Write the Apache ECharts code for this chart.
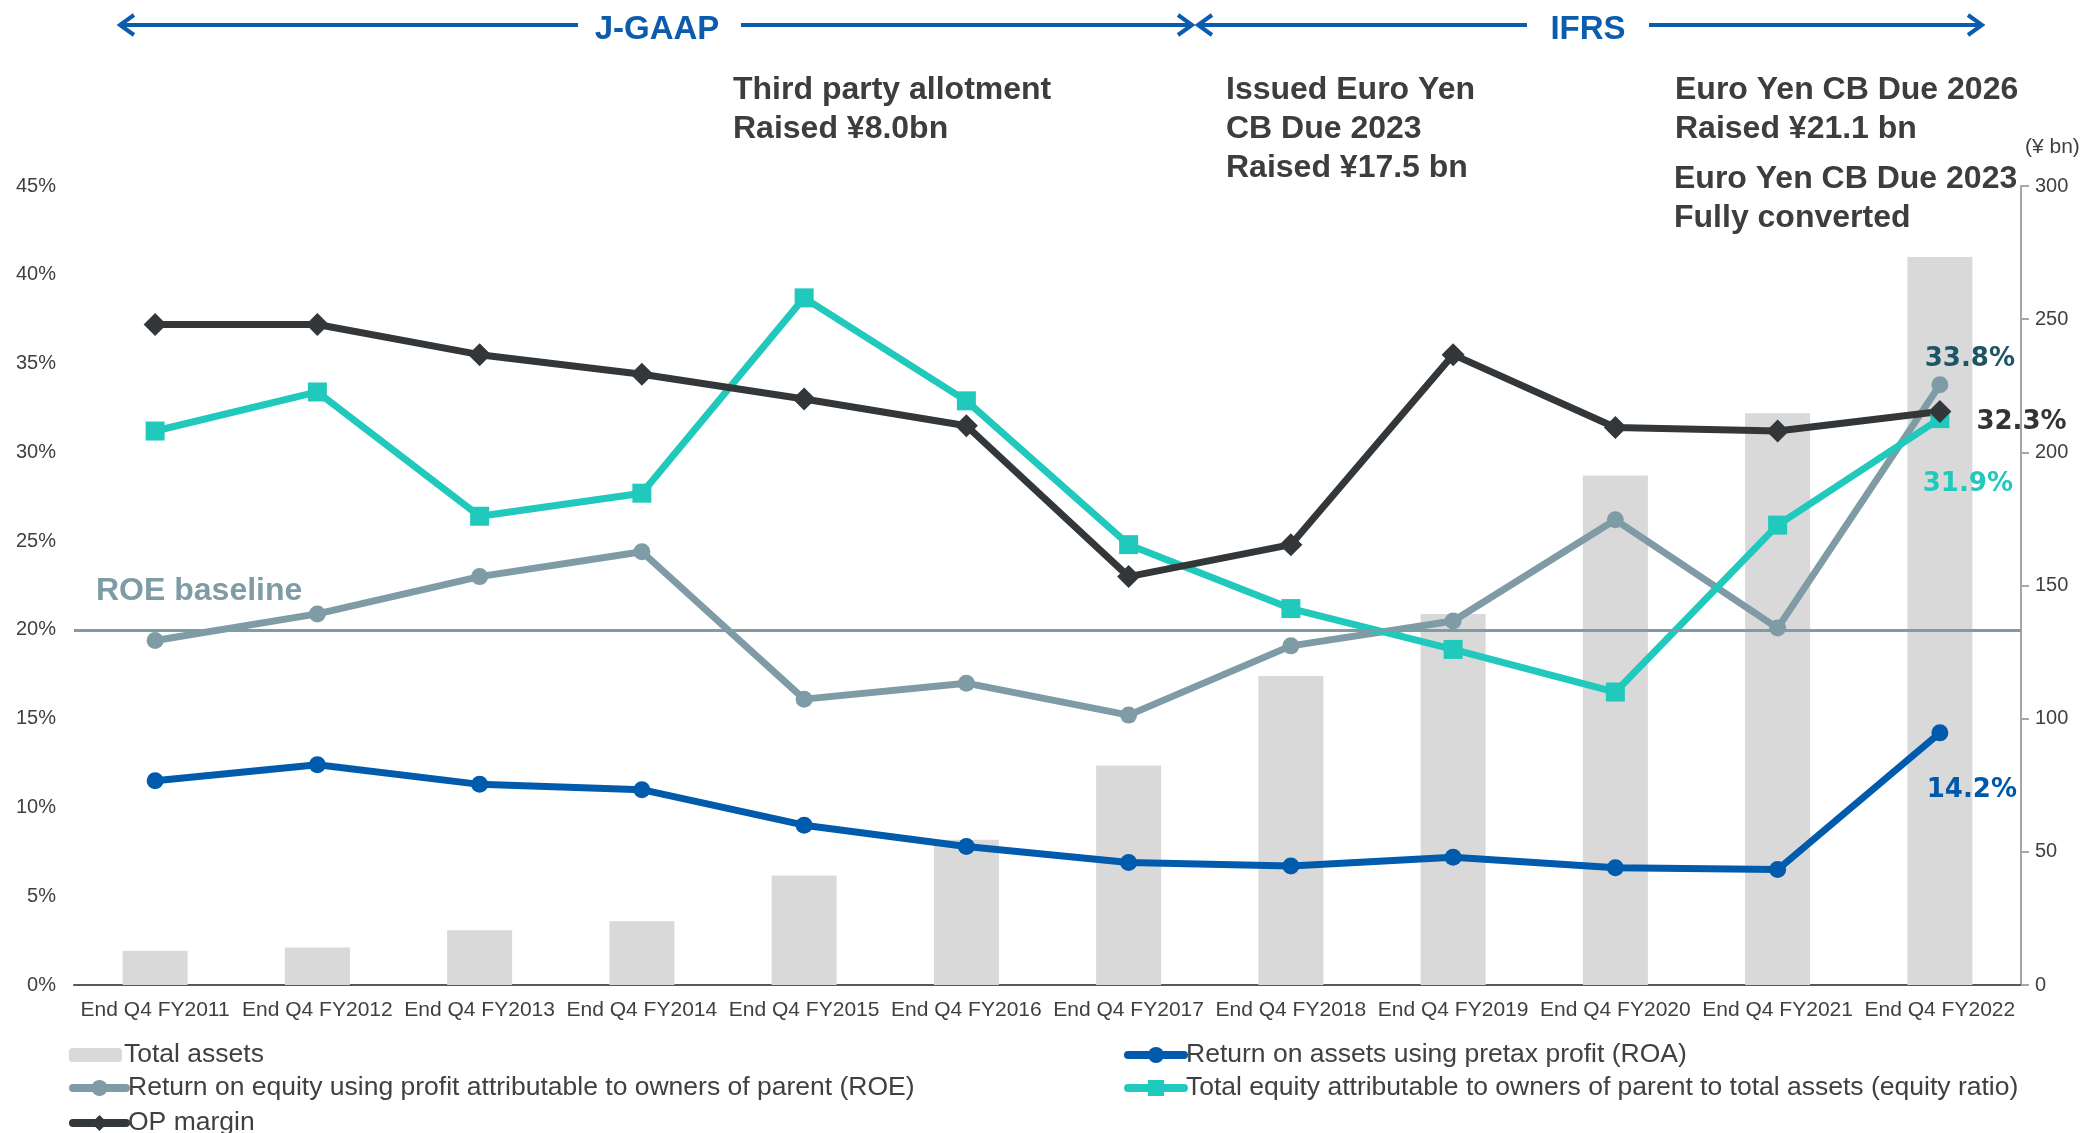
<!DOCTYPE html>
<html>
<head>
<meta charset="utf-8">
<script src="https://cdn.jsdelivr.net/npm/echarts@6/dist/echarts.min.js"></script>
<style>
  html, body { margin: 0; padding: 0; background: #ffffff; }
  #chart { width: 2085px; height: 1133px; }
</style>
</head>
<body>
<div id="chart"></div>
<script>
// Fiscal year-end categories
const categories = [
  'End Q4 FY2011', 'End Q4 FY2012', 'End Q4 FY2013', 'End Q4 FY2014',
  'End Q4 FY2015', 'End Q4 FY2016', 'End Q4 FY2017', 'End Q4 FY2018',
  'End Q4 FY2019', 'End Q4 FY2020', 'End Q4 FY2021', 'End Q4 FY2022'
];

// Total assets (¥ bn), right axis
const totalAssets = [12.9, 14.1, 20.6, 23.9, 41.1, 54.5, 82.4, 116.0, 139.3, 191.3, 214.7, 273.3];

// Ratios (%), left axis
const roa = [11.5, 12.4, 11.3, 11.0, 9.0, 7.8, 6.9, 6.7, 7.2, 6.6, 6.5, 14.2];
const roe = [19.4, 20.9, 23.0, 24.4, 16.1, 17.0, 15.2, 19.1, 20.5, 26.2, 20.1, 33.8];
const equityRatio = [31.2, 33.4, 26.4, 27.7, 38.7, 32.9, 24.8, 21.2, 18.9, 16.5, 25.9, 31.9];
const opMargin = [37.2, 37.2, 35.5, 34.4, 33.0, 31.5, 23.0, 24.8, 35.5, 31.4, 31.2, 32.3];

// ROE target line (%)
const roeBaseline = 20;

// Axis ticks
const pctAxis = { min: 0, max: 45, interval: 5 };
const bnAxis = { min: 0, max: 300, interval: 50 };

const SERIES_NAMES = {
  assets: 'Total assets',
  roa: 'Return on assets using pretax profit (ROA)',
  roe: 'Return on equity using profit attributable to owners of parent (ROE)',
  equity: 'Total equity attributable to owners of parent to total assets (equity ratio)',
  op: 'OP margin'
};

const COLORS = {
  assets: '#d9d9d9',
  roa: '#005bac',
  roe: '#7f9ca6',
  equity: '#20c9bc',
  op: '#33373a',
  blue: '#0b5cad',
  text: '#404040'
};

const SANS = "'Liberation Sans', Arial, sans-serif";
const WIDE = "'DejaVu Sans', Verdana, sans-serif";

// Attach a value label to the final point only
function withEndLabel(values, label) {
  return values.map((v, i) => i === values.length - 1
    ? { value: v, label: Object.assign({ show: true, formatter: '{c}%', fontFamily: WIDE, fontWeight: 'bold', fontSize: 26 }, label) }
    : v);
}

function lineSeries(key, values, symbol, size, endLabel) {
  return {
    name: SERIES_NAMES[key],
    type: 'line',
    yAxisIndex: 0,
    data: withEndLabel(values, endLabel),
    symbol: symbol,
    symbolSize: size,
    showSymbol: true,
    lineStyle: { color: COLORS[key], width: 7 },
    itemStyle: { color: COLORS[key] },
    z: 3
  };
}

// One legend row per series, placed in two columns under the axis
function legendRow(key, left, centerY, iconWidth, iconHeight) {
  return {
    orient: 'horizontal', left: left, top: centerY - 14, padding: 0,
    itemWidth: iconWidth, itemHeight: iconHeight,
    textStyle: { fontFamily: SANS, fontSize: 26.5, lineHeight: 28, color: COLORS.text, padding: [0, 0, 0, -3] },
    lineStyle: { width: 8, cap: 'round' },
    data: [SERIES_NAMES[key]],
    selectedMode: false
  };
}

// Period arrows across the top
function arrowHead(x, y, dir) {
  return {
    type: 'polyline',
    shape: { points: [[x - dir * 14, y - 10], [x, y], [x - dir * 14, y + 10]] },
    style: { stroke: COLORS.blue, lineWidth: 4, fill: null, lineJoin: 'miter' }
  };
}
function hLine(x1, x2, y) {
  return { type: 'line', shape: { x1: x1, y1: y, x2: x2, y2: y }, style: { stroke: COLORS.blue, lineWidth: 4 } };
}
function periodLabel(text, cx, cy) {
  return {
    type: 'text', x: cx, y: cy,
    style: { text: text, fill: COLORS.blue, font: "bold 33px 'Liberation Sans', Arial, sans-serif", align: 'center', verticalAlign: 'middle' }
  };
}
function note(text, x, y) {
  return {
    type: 'text', x: x, y: y,
    style: { text: text, fill: '#3d3d3d', font: "bold 32px 'Liberation Sans', Arial, sans-serif", lineHeight: 39, align: 'left', verticalAlign: 'top' }
  };
}

const chart = echarts.init(document.getElementById('chart'), null, { renderer: 'canvas' });

const option = {
  animation: false,
  backgroundColor: '#ffffff',
  textStyle: { fontFamily: SANS, color: COLORS.text },
  grid: { left: 74, right: 64, top: 186, bottom: 148, containLabel: false },
  legend: [
    legendRow('assets', 69, 1055, 53, 14),
    legendRow('roe', 69, 1088, 53, 20),
    legendRow('op', 69, 1123, 53, 20),
    legendRow('roa', 1124, 1055, 56, 20),
    legendRow('equity', 1124, 1088, 56, 20)
  ],
  xAxis: {
    type: 'category',
    data: categories,
    boundaryGap: true,
    axisLine: { show: true, lineStyle: { color: '#595959', width: 2 } },
    axisTick: { show: false },
    axisLabel: { interval: 0, margin: 15, fontFamily: SANS, fontSize: 21, color: COLORS.text }
  },
  yAxis: [
    {
      type: 'value', min: pctAxis.min, max: pctAxis.max, interval: pctAxis.interval,
      axisLine: { show: false }, axisTick: { show: false }, splitLine: { show: false },
      axisLabel: { formatter: '{value}%', margin: 18, fontFamily: SANS, fontSize: 20, color: COLORS.text }
    },
    {
      type: 'value', min: bnAxis.min, max: bnAxis.max, interval: bnAxis.interval,
      position: 'right',
      name: '(¥ bn)', nameLocation: 'end', nameGap: 28,
      nameTextStyle: { fontFamily: SANS, fontSize: 21, color: COLORS.text, align: 'left', padding: [0, 0, 0, 4] },
      axisLine: { show: true, lineStyle: { color: '#a6a6a6', width: 2 } },
      axisTick: { show: true, inside: false, length: 8, lineStyle: { color: '#a6a6a6', width: 2 } },
      splitLine: { show: false },
      axisLabel: { margin: 14, fontFamily: SANS, fontSize: 20, color: COLORS.text }
    }
  ],
  series: [
    {
      name: SERIES_NAMES.assets,
      type: 'bar',
      yAxisIndex: 1,
      data: totalAssets,
      barWidth: 65,
      itemStyle: { color: COLORS.assets },
      z: 1
    },
    lineSeries('roa', roa, 'circle', 17, { position: 'bottom', distance: 36, offset: [32, 0], color: '#0058a8' }),
    Object.assign(lineSeries('roe', roe, 'circle', 17, { position: 'top', distance: 4, offset: [30, 0], color: '#1d5566' }), {
      markLine: {
        silent: true,
        symbol: 'none',
        lineStyle: { color: COLORS.roe, width: 3, type: 'solid' },
        label: {
          show: true, position: 'insideStartTop', distance: [22, 23],
          formatter: 'ROE baseline', fontFamily: SANS, fontWeight: 'bold', fontSize: 32, color: COLORS.roe
        },
        data: [{ yAxis: roeBaseline }]
      }
    }),
    lineSeries('equity', equityRatio, 'rect', 19, { position: 'bottom', distance: 43, offset: [28, 0], color: COLORS.equity }),
    lineSeries('op', opMargin, 'diamond', 23, { position: 'right', distance: 25, offset: [0, 11], color: '#333333' })
  ],
  graphic: [
    // J-GAAP period
    arrowHead(120, 25, -1), hLine(120, 578, 25), hLine(741, 1192, 25), arrowHead(1192, 25, 1),
    periodLabel('J-GAAP', 657, 30),
    // IFRS period
    arrowHead(1198, 25, -1), hLine(1198, 1527, 25), hLine(1649, 1982, 25), arrowHead(1982, 25, 1),
    periodLabel('IFRS', 1588, 30),
    // Financing events
    note('Third party allotment\nRaised ¥8.0bn', 733, 71),
    note('Issued Euro Yen\nCB Due 2023\nRaised ¥17.5 bn', 1226, 71),
    note('Euro Yen CB Due 2026\nRaised ¥21.1 bn', 1675, 71),
    note('Euro Yen CB Due 2023\nFully converted', 1674, 160)
  ]
};

chart.setOption(option);
</script>
</body>
</html>
